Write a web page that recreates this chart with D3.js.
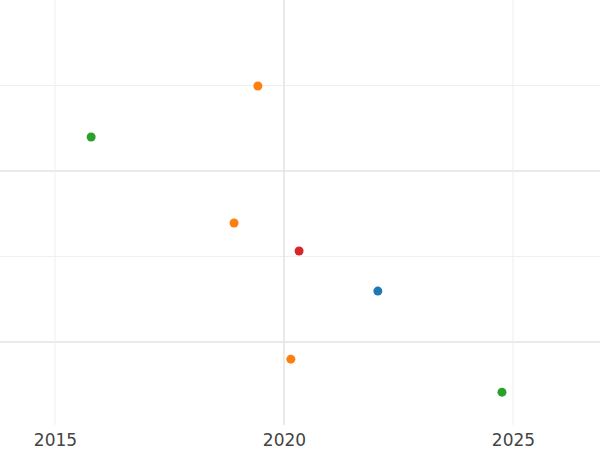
<!DOCTYPE html>
<html><head><meta charset="utf-8">
<script src="https://cdn.jsdelivr.net/npm/d3@7"></script>
<style>body{margin:0;background:#fff}</style></head>
<body><svg id="c" width="600" height="450"></svg>
<script>
const xVals = [2015.79, 2019.43, 2018.91, 2020.33, 2022.05, 2020.15, 2024.76];
const yVals = [1.205, 1.503, 0.702, 0.538, 0.304, -0.094, -0.287];
const colors = ["#2ca02c", "#ff7f0e", "#ff7f0e", "#d62728", "#1f77b4", "#ff7f0e", "#2ca02c"];
const xTicks = [2015, 2020, 2025];
const yMajor = [0, 1];
const yMinor = [0.5, 1.5];

const svg = d3.select("#c");
const x = d3.scaleLinear().domain([2013.8, 2026.9]).range([0, 600]);
const y = d3.scaleLinear().domain([-0.485, 2]).range([425, 0]);

svg.selectAll(".hmin").data(yMinor).enter().append("line")
  .attr("x1", 0).attr("x2", 600).attr("y1", d => y(d)).attr("y2", d => y(d))
  .attr("stroke", "#efefef").attr("stroke-width", 1);
svg.selectAll(".hmaj").data(yMajor).enter().append("line")
  .attr("x1", 0).attr("x2", 600).attr("y1", d => y(d)).attr("y2", d => y(d))
  .attr("stroke", "#e3e3e3").attr("stroke-width", 1.5);
svg.selectAll(".v").data(xTicks).enter().append("line")
  .attr("x1", d => x(d)).attr("x2", d => x(d)).attr("y1", 0).attr("y2", 425)
  .attr("stroke", d => d === 2020 ? "#e3e3e3" : "#efefef")
  .attr("stroke-width", d => d === 2020 ? 1.5 : 1);

const ax = d3.axisBottom(x).tickValues(xTicks).tickFormat(d3.format("d")).tickSize(0).tickPadding(9);
const g = svg.append("g").attr("transform", "translate(0,425)").call(ax);
g.select(".domain").remove();
g.selectAll("text").attr("font-family", "DejaVu Sans").attr("font-size", 17).attr("fill", "#444");

svg.selectAll("circle").data(xVals).enter().append("circle")
  .attr("cx", d => x(d)).attr("cy", (d, i) => y(yVals[i]) + 1).attr("r", 4.5)
  .attr("fill", (d, i) => colors[i]);
</script></body></html>
